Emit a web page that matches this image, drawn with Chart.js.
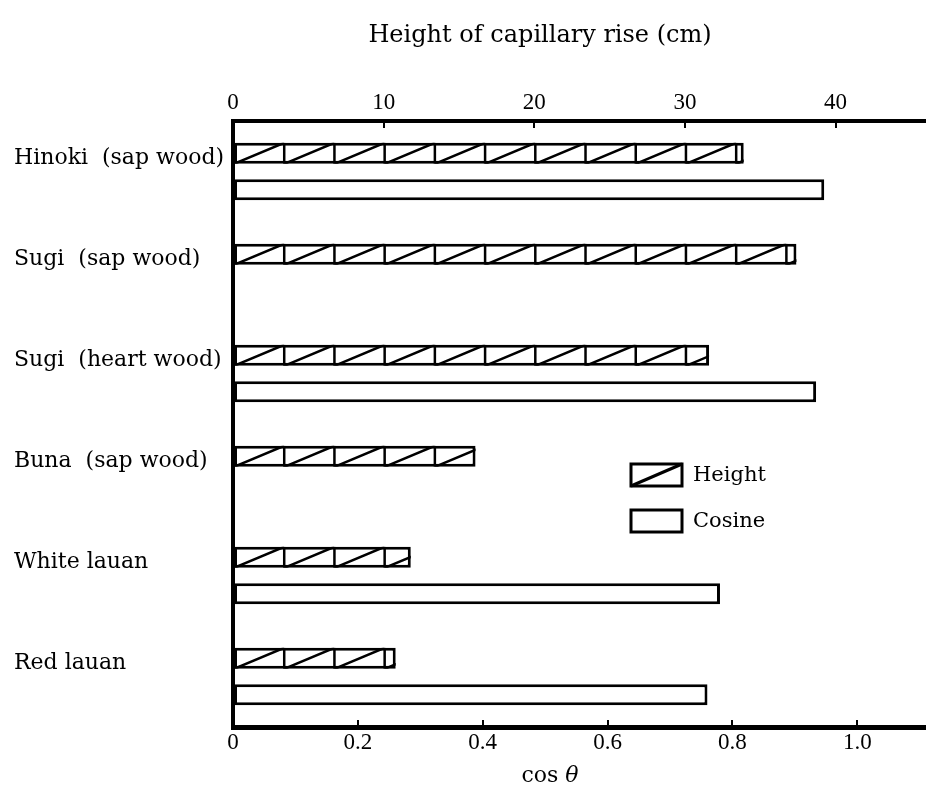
<!DOCTYPE html>
<html>
<head>
<meta charset="utf-8">
<title>Height of capillary rise</title>
<script src="https://cdn.jsdelivr.net/npm/chart.js@4.4.0/dist/chart.umd.min.js"></script>
<style>
  html, body { margin: 0; padding: 0; background: #fff; }
  #wrap { width: 926px; height: 797px; position: relative; }
</style>
</head>
<body>
<div id="wrap"><canvas id="woodChart" width="926" height="797"></canvas></div>
<script>
// data
const woods = [
  "Hinoki  (sap wood)",
  "Sugi  (sap wood)",
  "Sugi  (heart wood)",
  "Buna  (sap wood)",
  "White lauan",
  "Red lauan",
];
const riseHeight = [33.9, 37.4, 31.6, 16.1, 11.8, 10.8]; // cm, top axis
const cosTheta = [0.947, null, 0.934, null, 0.78, 0.76]; // bottom axis
const seriesNames = ["Height", "Cosine"];
const heightTicks = [0, 10, 20, 30, 40];
const cosTicks = [0, 0.2, 0.4, 0.6, 0.8, 1.0];

const serif = "Liberation Serif";
const wideSerif = "DejaVu Serif";

// diagonal hatching drawn over the Height bars
const hatchPlugin = {
  id: "hatch",
  afterDatasetDraw(chart, args, opts) {
    if (args.index !== 0) return;
    const ctx = chart.ctx;
    const sc = chart.scales.xTop;
    const step = sc.getPixelForValue(opts.step) - sc.getPixelForValue(0);
    args.meta.data.forEach((bar) => {
      const p = bar.getProps(["x", "y", "base", "height"], true);
      const left = Math.min(p.base, p.x);
      const right = Math.max(p.base, p.x);
      const top = p.y - p.height / 2;
      const bottom = p.y + p.height / 2;
      ctx.save();
      ctx.beginPath();
      ctx.rect(left, top, right - left, bottom - top);
      ctx.clip();
      ctx.strokeStyle = "#000";
      ctx.lineWidth = opts.lineWidth;
      ctx.beginPath();
      for (let x0 = left; x0 < right; x0 += step) {
        if (x0 > left) {
          ctx.moveTo(x0, top);
          ctx.lineTo(x0, bottom);
        }
        ctx.moveTo(x0, bottom);
        ctx.lineTo(x0 + step, top);
      }
      ctx.stroke();
      ctx.restore();
    });
  },
};

// legend box inside the plot, plus the two axis titles
const labelsPlugin = {
  id: "labels",
  afterDraw(chart, args, opts) {
    const ctx = chart.ctx;
    ctx.save();
    ctx.fillStyle = "#000";
    ctx.strokeStyle = "#000";

    // legend
    chart.data.datasets.forEach((ds, i) => {
      const bx = opts.legendX;
      const by = opts.legendY + i * opts.legendGap;
      ctx.lineWidth = 3;
      ctx.fillStyle = "#fff";
      ctx.fillRect(bx, by, opts.boxW, opts.boxH);
      ctx.strokeRect(bx, by, opts.boxW, opts.boxH);
      if (i === 0) {
        ctx.beginPath();
        ctx.moveTo(bx, by + opts.boxH);
        ctx.lineTo(bx + opts.boxW, by);
        ctx.stroke();
      }
      ctx.fillStyle = "#000";
      ctx.font = "21px '" + wideSerif + "'";
      ctx.textAlign = "left";
      ctx.textBaseline = "middle";
      ctx.fillText(ds.label, bx + opts.boxW + 11, by + opts.boxH / 2 + 1);
    });

    // top axis title
    ctx.font = "24px '" + wideSerif + "'";
    ctx.textAlign = "center";
    ctx.textBaseline = "middle";
    ctx.fillText("Height of capillary rise (cm)", opts.topTitleX, opts.topTitleY);

    // bottom axis title: cos θ
    ctx.textAlign = "left";
    ctx.font = "22px '" + wideSerif + "'";
    const a = "cos ";
    const wa = ctx.measureText(a).width;
    ctx.font = "italic 22px '" + wideSerif + "'";
    const wb = ctx.measureText("θ").width;
    const sx = opts.botTitleX - (wa + wb) / 2;
    ctx.font = "22px '" + wideSerif + "'";
    ctx.fillText(a, sx, opts.botTitleY);
    ctx.font = "italic 22px '" + wideSerif + "'";
    ctx.fillText("θ", sx + wa, opts.botTitleY);
    ctx.restore();
  },
};

Chart.defaults.font.family = serif;
Chart.defaults.color = "#000";

const ctx = document.getElementById("woodChart").getContext("2d");
new Chart(ctx, {
  type: "bar",
  data: {
    labels: woods,
    datasets: [
      {
        label: seriesNames[0],
        data: riseHeight,
        xAxisID: "xTop",
        backgroundColor: "#fff",
        borderColor: "#000",
        borderWidth: 3,
        borderSkipped: false,
      },
      {
        label: seriesNames[1],
        data: cosTheta,
        xAxisID: "x",
        backgroundColor: "#fff",
        borderColor: "#000",
        borderWidth: 3,
        borderSkipped: false,
      },
    ],
  },
  options: {
    indexAxis: "y",
    responsive: false,
    devicePixelRatio: 1,
    animation: false,
    categoryPercentage: 0.72,
    barPercentage: 0.58,
    layout: { padding: { left: 14, right: 0, top: 0, bottom: 0 } },
    plugins: {
      legend: { display: false },
      tooltip: { enabled: false },
      hatch: { step: 10 / 3, lineWidth: 2.5 },
      labels: {
        legendX: 631,
        legendY: 464,
        legendGap: 46,
        boxW: 51,
        boxH: 22,
        topTitleX: 540,
        topTitleY: 36,
        botTitleX: 550,
        botTitleY: 776,
      },
    },
    scales: {
      y: {
        type: "category",
        position: "left",
        offset: true,
        grid: { display: false },
        border: { display: true, color: "#000", width: 4 },
        ticks: {
          font: { family: wideSerif, size: 22 },
          crossAlign: "far",
          labelOffset: -13,
          padding: 0,
        },
        afterFit: (s) => {
          s.width = 219;
        },
      },
      xTop: {
        type: "linear",
        position: "top",
        min: 0,
        max: 46,
        grid: {
          drawOnChartArea: false,
          color: "#000",
          lineWidth: 2,
          tickLength: -7,
        },
        border: { color: "#000", width: 4 },
        ticks: {
          font: { size: 23 },
          padding: 11,
          includeBounds: false,
          maxRotation: 0,
        },
        afterBuildTicks: (s) => {
          s.ticks = heightTicks.map((v) => ({ value: v }));
        },
        afterFit: (s) => {
          s.height = 121;
        },
      },
      x: {
        type: "linear",
        position: "bottom",
        min: 0,
        max: 1.11,
        grid: {
          drawOnChartArea: false,
          color: "#000",
          lineWidth: 2,
          tickLength: -7,
        },
        border: { color: "#000", width: 5 },
        ticks: {
          font: { size: 23 },
          padding: 9,
          includeBounds: false,
          maxRotation: 0,
          callback: (v) => (v === 0 ? "0" : v.toFixed(1)),
        },
        afterBuildTicks: (s) => {
          s.ticks = cosTicks.map((v) => ({ value: v }));
        },
        afterFit: (s) => {
          s.height = 70;
        },
      },
    },
  },
  plugins: [hatchPlugin, labelsPlugin],
});
</script>
</body>
</html>
